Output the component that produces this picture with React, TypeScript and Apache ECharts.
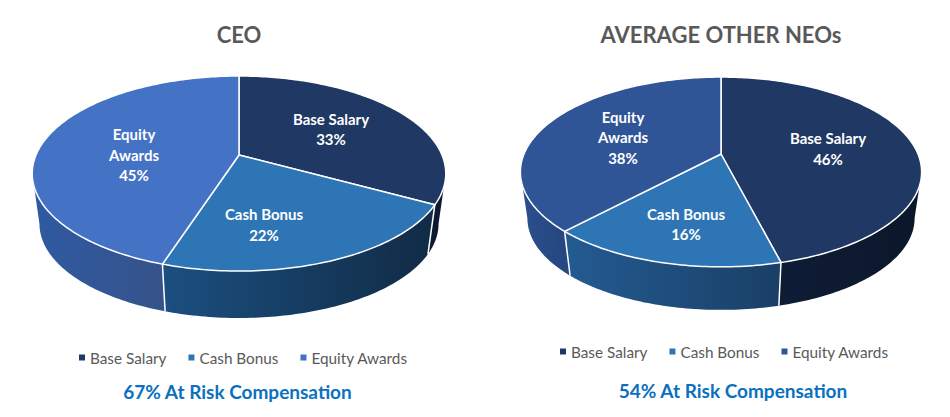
import React, { useEffect, useRef } from "react";
import * as echarts from "echarts";

const categories = ["Base Salary", "Cash Bonus", "Equity Awards"];
const sliceLabels = ["Base Salary", "Cash Bonus", "Equity\nAwards"];
const ceoValues = [33, 22, 45];
const neoValues = [46, 16, 38];
const chartTitles = ["CEO", "AVERAGE OTHER NEOs"];
const riskNotes = ["67% At Risk Compensation", "54% At Risk Compensation"];

const FONT = "Lato";
const pies = [
  {
    values: ceoValues,
    cx: 239, hub: 155, b: 203, a: 94, p: -0.19, depth: 51,
    tops: ["#1f3864", "#2e75b6", "#4472c4"],
    walls: [["#0b1a30", "#0b1a30"], ["#1b4f80", "#112b45"], ["#2e5aa2", "#36538a"]],
    labels: [[331, 129], [264, 224.5], [134, 154.5]],
  },
  {
    values: neoValues,
    cx: 721, hub: 154, b: 197, a: 91.5, p: -0.189, depth: 47,
    tops: ["#1f3864", "#2e75b6", "#2f5597"],
    walls: [["#0e1c36", "#0b1729"], ["#235b92", "#1a3f66"], ["#2b4f8e", "#25467e"]],
    labels: [[828, 148.5], [686, 224], [623, 137]],
  },
];
const WALL_SCALE = 0.965;

function rim(pie: any, deg: number, scale = 1, drop = 0): number[] {
  const t = (deg * Math.PI) / 180;
  const X = Math.sin(t);
  const Y = -Math.cos(t);
  const w = 1 + pie.p * Y;
  return [pie.cx + (scale * pie.b * X) / w, pie.hub + drop + (scale * pie.a * Y) / w];
}

function arc(from: number, to: number): number[] {
  const out: number[] = [];
  const steps = Math.max(2, Math.ceil(to - from));
  for (let i = 0; i <= steps; i++) out.push(from + ((to - from) * i) / steps);
  return out;
}

function sliceSeries(pie: any) {
  let running = 0;
  return pie.values.map((value: number, i: number) => {
    const start = running;
    running += value;
    return {
      type: "custom",
      name: categories[i],
      coordinateSystem: "none",
      silent: true,
      itemStyle: { color: pie.tops[i] },
      data: [[start, value]],
      renderItem: (_params: any, api: any) => {
        const from = (api.value(0) / 100) * 360;
        const to = from + (api.value(1) / 100) * 360;
        const edge = (Math.acos(pie.p) * 180) / Math.PI;
        const children: any[] = [];
        const wFrom = Math.max(from, edge);
        const wTo = Math.min(to, 360 - edge);
        if (wTo > wFrom) {
          const angles = arc(wFrom, wTo);
          const upper = angles.map((d) => rim(pie, d));
          const lower = angles.map((d) => rim(pie, d, WALL_SCALE, pie.depth)).reverse();
          children.push({
            type: "polygon",
            z2: 1,
            shape: { points: upper.concat(lower) },
            style: {
              fill: new echarts.graphic.LinearGradient(0, 0, 1, 0, [
                { offset: 0, color: pie.walls[i][0] },
                { offset: 1, color: pie.walls[i][1] },
              ]),
            },
          });
        }
        if (to > edge && to < 360 - edge) {
          children.push({
            type: "line",
            z2: 2,
            shape: (() => {
              const u = rim(pie, to);
              const l = rim(pie, to, WALL_SCALE, pie.depth);
              return { x1: u[0], y1: u[1], x2: l[0], y2: l[1] };
            })(),
            style: { stroke: "#ffffff", lineWidth: 1.5 },
          });
        }
        const face = [[pie.cx, pie.hub]].concat(arc(from, to).map((d) => rim(pie, d)));
        children.push({
          type: "polygon",
          z2: 10,
          shape: { points: face },
          style: { fill: pie.tops[i], stroke: "#ffffff", lineWidth: 1.5, lineJoin: "round" },
        });
        children.push({
          type: "text",
          z2: 20,
          style: {
            text: `${sliceLabels[i]}\n${api.value(1)}%`,
            x: pie.labels[i][0],
            y: pie.labels[i][1],
            fill: "#ffffff",
            font: `bold 15px ${FONT}`,
            align: "center",
            verticalAlign: "middle",
            lineHeight: 20.5,
          },
        });
        return { type: "group", children };
      },
    };
  });
}

function legendFor(pie: any, left: number, top: number) {
  return {
    left,
    top,
    icon: "rect",
    itemWidth: 6,
    itemHeight: 6,
    itemGap: 22,
    padding: 0,
    selectedMode: false,
    textStyle: { color: "#595959", fontFamily: FONT, fontSize: 15.3 },
    data: categories.map((name, i) => ({ name, itemStyle: { color: pie.tops[i] } })),
  };
}

function titleFor(text: string, left: number, top: number, color: string, fontSize: number) {
  return {
    text,
    left,
    top,
    textAlign: "center",
    padding: 0,
    textStyle: { color, fontFamily: FONT, fontSize, fontWeight: "bold" },
  };
}

export default function App() {
  const ref = useRef<HTMLDivElement>(null);
  useEffect(() => {
    const chart = echarts.init(ref.current!, undefined, { renderer: "svg" });
    chart.setOption({
      animation: false,
      backgroundColor: "#ffffff",
      title: [
        titleFor(chartTitles[0], 239, 23, "#595959", 22),
        titleFor(chartTitles[1], 721, 23, "#595959", 22),
        titleFor(riskNotes[0], 237.5, 381.5, "#0b70c0", 19),
        titleFor(riskNotes[1], 733, 380.5, "#0b70c0", 19),
      ],
      legend: [legendFor(pies[0], 79, 350), legendFor(pies[1], 560, 344)],
      series: pies.flatMap((pie) => sliceSeries(pie)),
    });
    return () => chart.dispose();
  }, []);
  return (
    <div
      ref={ref}
      style={{ position: "absolute", left: 0, top: 0, width: 950, height: 417, background: "#fff" }}
    />
  );
}
